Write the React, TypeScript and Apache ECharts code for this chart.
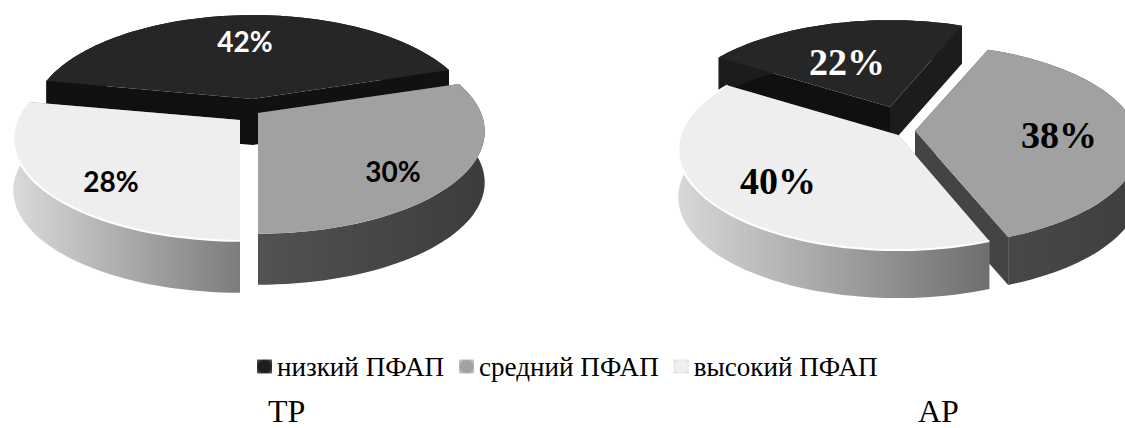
import React, { useEffect, useRef } from "react";
import * as echarts from "echarts";

const levels = ["низкий ПФАП", "средний ПФАП", "высокий ПФАП"];
const groups = ["ТР", "АР"];
const lowShare = [42, 22];
const midShare = [30, 38];
const highShare = [28, 40];
const shares = [lowShare, midShare, highShare];

// Perspective disc for each pie: horizontal and vertical radii, tilt, first slice angle (deg from top, clockwise)
const discs = [
  { rx: 223, ry: 99, tilt: 0.18, start: 280.8, labelFont: "bold 28px Lato" },
  { rx: 222, ry: 99, tilt: 0.14, start: 302.6, labelFont: "bold 38px 'Liberation Serif'" },
];
// Exploded apex, wall depth, width factor and label anchor of every slice, by pie then by level
const sliceLayout = [
  [
    { apex: [253, 99], depth: 46, widen: 0.975, label: [245, 41] },
    { apex: [258, 113], depth: 51, widen: 1, label: [393, 171] },
    { apex: [240, 120], depth: 52, widen: 1, label: [111, 181] },
  ],
  [
    { apex: [890, 107], depth: 38, widen: 0.985, label: [847, 62] },
    { apex: [915, 131], depth: 48, widen: 1, label: [1059, 135] },
    { apex: [898, 135], depth: 48, widen: 0.98, label: [778, 181] },
  ],
];

const hGrad = (a: string, b: string) =>
  new echarts.graphic.LinearGradient(0, 0, 1, 0, [
    { offset: 0, color: a },
    { offset: 1, color: b },
  ]);

const faces = [
  { top: "#262626", cutA: ["#111111", "#1c1c1c"], cutB: "#101010", wall: ["#111111", "#1c1c1c"], label: "#ffffff" },
  { top: "#a1a1a1", cutA: ["#444444", "#444444"], cutB: "#444444", wall: [hGrad("#525252", "#3c3c3c"), hGrad("#4a4a4a", "#3e3e3e")], label: "#000000" },
  { top: "#eeeeee", cutA: ["#8a8a8a", "#8a8a8a"], cutB: "#8a8a8a", wall: [hGrad("#dadada", "#7c7c7c"), hGrad("#d8d8d8", "#6e6e6e")], label: "#000000" },
];

// Bevelled legend swatches: the rim is lighter than the middle
const bevel = (inner: string, outer: string) =>
  new echarts.graphic.RadialGradient(0.5, 0.5, 0.72, [
    { offset: 0, color: inner },
    { offset: 0.55, color: inner },
    { offset: 1, color: outer },
  ]);
const swatches = [bevel("#1e1e1e", "#6a6a6a"), bevel("#a2a2a2", "#dcdcdc"), bevel("#efefef", "#d4d4d4")];

function project(pie: number, level: number, deg: number, drop: number) {
  const d = discs[pie];
  const { apex, widen } = sliceLayout[pie][level];
  const t = (deg * Math.PI) / 180;
  const u = Math.sin(t);
  const v = Math.cos(t);
  const w = 1 + d.tilt * v;
  return [apex[0] + (d.rx * widen * u) / w, apex[1] - (d.ry * v) / w + drop];
}

function arc(pie: number, level: number, from: number, to: number, drop: number) {
  const pts: number[][] = [];
  const n = Math.max(2, Math.ceil((to - from) / 2));
  for (let i = 0; i <= n; i++) {
    pts.push(project(pie, level, from + ((to - from) * i) / n, drop));
  }
  return pts;
}

function renderSlice(params: any, api: any) {
  const pie = api.value(0) as number;
  const value = api.value(1) as number;
  const level = params.seriesIndex as number;
  let from = discs[pie].start;
  for (let l = 0; l < level; l++) from += shares[l][pie] * 3.6;
  const to = from + value * 3.6;
  const { depth, label, apex } = sliceLayout[pie][level];
  const f = faces[level];

  const rim = arc(pie, level, from, to, 0);
  const rimLow = arc(pie, level, from, to, depth);
  const first = rim[0];
  const last = rim[rim.length - 1];
  const poly = (points: number[][], fill: any) => ({
    type: "polygon",
    shape: { points },
    style: { fill },
  });

  const children: any[] = [
    poly([apex, first, [first[0], first[1] + depth], [apex[0], apex[1] + depth]], f.cutB),
    poly([apex, last, [last[0], last[1] + depth], [apex[0], apex[1] + depth]], f.cutA[pie]),
    poly([...rim, ...rimLow.slice().reverse()], f.wall[pie]),
    poly([apex, ...rim], f.top),
  ];
  if (level === 2) {
    children.push({
      type: "polyline",
      shape: { points: rim },
      style: { stroke: "#ffffff", lineWidth: 2, fill: "none" },
    });
  }
  children.push({
    type: "text",
    style: {
      text: `${value}%`,
      x: label[0],
      y: label[1],
      fill: f.label,
      font: discs[pie].labelFont,
      align: "center",
      verticalAlign: "middle",
    },
  });
  return { type: "group", children };
}

const captionStyle = { fontFamily: "Liberation Serif", fontSize: 32, fontWeight: "normal", color: "#000" };

export default function App() {
  const ref = useRef<HTMLDivElement>(null);
  useEffect(() => {
    document.body.style.margin = "0";
    const chart = echarts.init(ref.current!, null, { renderer: "svg" });
    chart.setOption({
      animation: false,
      backgroundColor: "#ffffff",
      title: [
        { text: groups[0], left: 268, top: 395, padding: 0, textStyle: captionStyle },
        { text: groups[1], left: 918, top: 395, padding: 0, textStyle: captionStyle },
      ],
      legend: {
        data: levels,
        left: 257,
        top: 353,
        padding: 0,
        icon: "rect",
        itemWidth: 15,
        itemHeight: 14,
        itemGap: 15,
        selectedMode: false,
        textStyle: { fontFamily: "Liberation Serif", fontSize: 27.1, color: "#000" },
      },
      series: levels.map((name, i) => ({
        type: "custom",
        name,
        coordinateSystem: "none",
        renderItem: renderSlice,
        itemStyle: { color: swatches[i] },
        data: groups.map((_, pie) => [pie, shares[i][pie]]),
      })),
    });
    return () => chart.dispose();
  }, []);
  return <div ref={ref} style={{ width: 1125, height: 428 }} />;
}
